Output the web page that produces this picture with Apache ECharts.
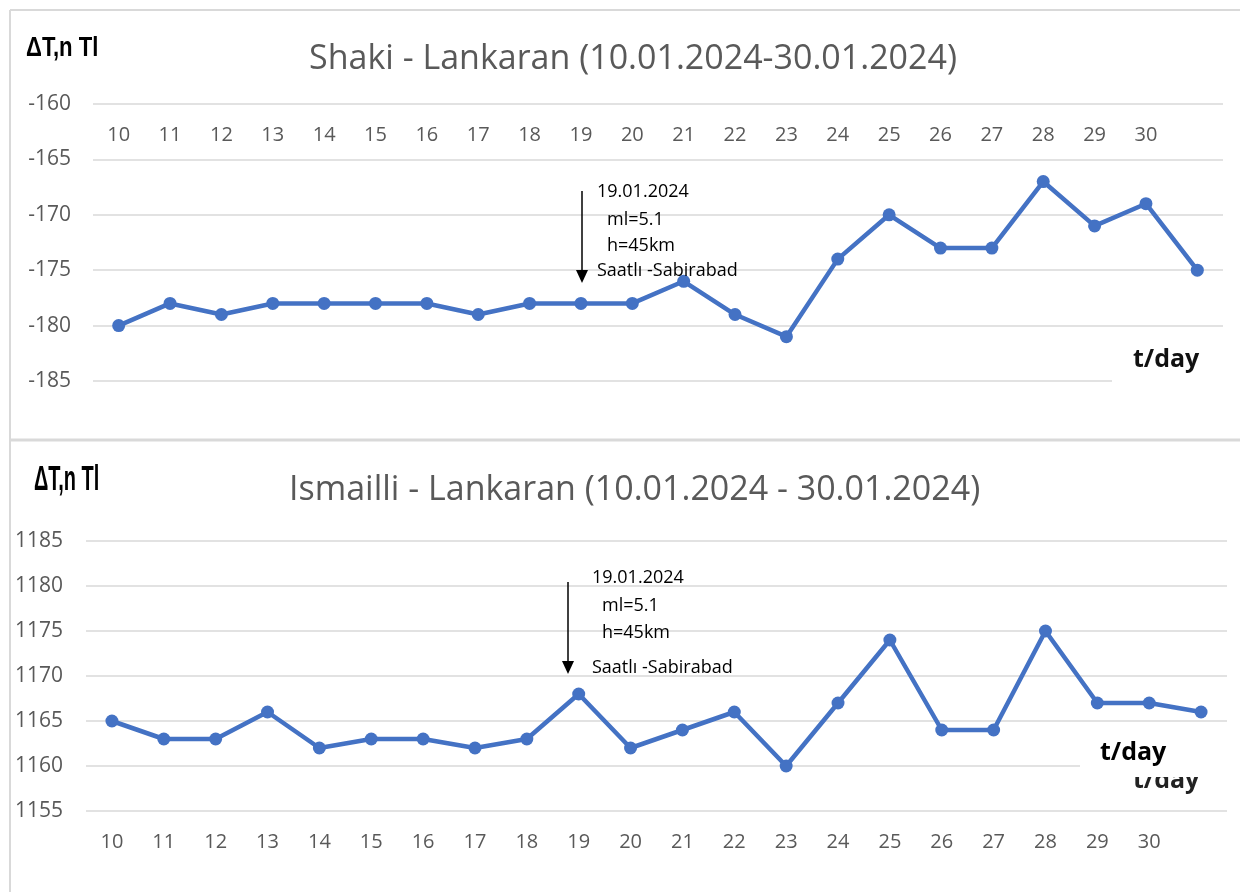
<!DOCTYPE html>
<html>
<head>
<meta charset="utf-8">
<script src="https://cdn.jsdelivr.net/npm/echarts@6/dist/echarts.min.js"></script>
<style>
  html, body { margin: 0; padding: 0; background: #fff; }
  #chart { width: 1240px; height: 892px; }
</style>
</head>
<body>
<div id="chart"></div>
<script>
// ---- data ----
const days = ['10','11','12','13','14','15','16','17','18','19','20','21','22','23','24','25','26','27','28','29','30',''];
const shakiValues = [-180,-178,-179,-178,-178,-178,-178,-179,-178,-178,-178,-176,-179,-181,-174,-170,-173,-173,-167,-171,-169,-175];
const ismailliValues = [1165,1163,1163,1166,1162,1163,1163,1162,1163,1168,1162,1164,1166,1160,1167,1174,1164,1164,1175,1167,1167,1166];
const shakiTitle = 'Shaki - Lankaran (10.01.2024-30.01.2024)';
const ismailliTitle = 'Ismailli - Lankaran (10.01.2024 - 30.01.2024)';
const yUnit = 'ΔT,n Tl';
const xUnit = 't/day';
const quakeLines = ['19.01.2024', 'ml=5.1', 'h=45km', 'Saatlı -Sabirabad'];

const FONT = "'Open Sans', 'Noto Sans', sans-serif";
const GRAY = '#595959';
const GRID = '#d9d9d9';
const BLUE = '#4472C4';

function annotation(x0, yTop, yTip, textX, textYs) {
  const els = [
    { type: 'line', shape: { x1: x0, y1: yTop, x2: x0, y2: yTip - 10 }, style: { stroke: '#000', lineWidth: 1.5 }, z: 50 },
    { type: 'polygon', shape: { points: [[x0 - 6, yTip - 13], [x0 + 6, yTip - 13], [x0, yTip]] }, style: { fill: '#000' }, z: 50 }
  ];
  const xs = [textX, textX + 10, textX + 10, textX];
  quakeLines.forEach((t, i) => {
    els.push({ type: 'text', x: xs[i], y: textYs[i], z: 50,
      style: { text: t, font: "18px 'Open Sans', sans-serif", fill: '#000', textVerticalAlign: 'middle', verticalAlign: 'middle' } });
  });
  return els;
}

const graphics = [
  // frame
  { type: 'line', shape: { x1: 10, y1: 10, x2: 1240, y2: 10 }, style: { stroke: GRID, lineWidth: 2 }, z: 1 },
  { type: 'line', shape: { x1: 10, y1: 10, x2: 10, y2: 892 }, style: { stroke: GRID, lineWidth: 2 }, z: 1 },
  { type: 'line', shape: { x1: 10, y1: 440, x2: 1240, y2: 440 }, style: { stroke: GRID, lineWidth: 3 }, z: 1 },
  // y unit labels
  { type: 'text', x: 26, y: 62, scaleX: 0.79, z: 50,
    style: { text: yUnit, font: "bold 28px 'Liberation Sans', sans-serif", fill: '#000', textVerticalAlign: 'bottom', verticalAlign: 'bottom' } },
  { type: 'text', x: 34, y: 498, scaleX: 0.57, z: 50,
    style: { text: yUnit, font: "bold 35px 'Liberation Sans', sans-serif", fill: '#000', textVerticalAlign: 'bottom', verticalAlign: 'bottom' } },
  // top t/day with white backing
  { type: 'rect', shape: { x: 1112, y: 345, width: 118, height: 50 }, style: { fill: '#fff' }, z: 60 },
  { type: 'text', x: 1133, y: 360, z: 61,
    style: { text: xUnit, font: "bold 25px 'Open Sans', sans-serif", fill: '#111', textVerticalAlign: 'middle', verticalAlign: 'middle' } },
  // bottom: hidden second t/day, white box, visible t/day
  { type: 'text', x: 1133, y: 781, z: 59,
    style: { text: xUnit, font: "bold 25px 'Open Sans', sans-serif", fill: '#222', textVerticalAlign: 'middle', verticalAlign: 'middle' } },
  { type: 'rect', shape: { x: 1080, y: 737, width: 150, height: 40 }, style: { fill: '#fff' }, z: 60 },
  { type: 'text', x: 1100, y: 753, z: 61,
    style: { text: xUnit, font: "bold 25px 'Open Sans', sans-serif", fill: '#000', textVerticalAlign: 'middle', verticalAlign: 'middle' } }
].concat(annotation(582, 191, 283, 597, [192, 220, 246, 271]))
 .concat(annotation(568, 582, 674, 592, [578, 606, 633, 668]));

const plainNum = v => String(v);

const chart = echarts.init(document.getElementById('chart'), null, { renderer: 'canvas' });
chart.setOption({
  animation: false,
  backgroundColor: '#fff',
  title: [
    { text: shakiTitle, left: 304, top: 37, textStyle: { fontFamily: FONT, fontSize: 34, fontWeight: 'normal', color: GRAY } },
    { text: ismailliTitle, left: 284, top: 468, textStyle: { fontFamily: FONT, fontSize: 34, fontWeight: 'normal', color: GRAY } }
  ],
  grid: [
    { left: 93, right: 17, top: 104, height: 277 },
    { left: 86, right: 13, top: 541, height: 270 }
  ],
  xAxis: [
    { type: 'category', gridIndex: 0, data: days, position: 'top', boundaryGap: true,
      axisLine: { show: false }, axisTick: { show: false },
      axisLabel: { inside: true, margin: 21, interval: 0, color: GRAY, fontSize: 20, fontFamily: FONT } },
    { type: 'category', gridIndex: 1, data: days, position: 'bottom', boundaryGap: true,
      axisLine: { show: false }, axisTick: { show: false },
      axisLabel: { margin: 21, interval: 0, color: GRAY, fontSize: 20, fontFamily: FONT } }
  ],
  yAxis: [
    { type: 'value', gridIndex: 0, min: -185, max: -160, interval: 5,
      axisLine: { show: false }, axisTick: { show: false },
      axisLabel: { margin: 22, color: GRAY, fontSize: 21, fontFamily: FONT, formatter: plainNum },
      splitLine: { lineStyle: { color: GRID, width: 1.5 } } },
    { type: 'value', gridIndex: 1, min: 1155, max: 1185, interval: 5,
      axisLine: { show: false }, axisTick: { show: false },
      axisLabel: { margin: 23, color: GRAY, fontSize: 21, fontFamily: FONT, formatter: plainNum },
      splitLine: { lineStyle: { color: GRID, width: 1.5 } } }
  ],
  series: [
    { type: 'line', xAxisIndex: 0, yAxisIndex: 0, data: shakiValues, symbol: 'circle', symbolSize: 13,
      lineStyle: { color: BLUE, width: 4.5 }, itemStyle: { color: BLUE }, z: 10 },
    { type: 'line', xAxisIndex: 1, yAxisIndex: 1, data: ismailliValues, symbol: 'circle', symbolSize: 13,
      lineStyle: { color: BLUE, width: 4.5 }, itemStyle: { color: BLUE }, z: 10 }
  ],
  graphic: graphics
});
</script>
</body>
</html>
